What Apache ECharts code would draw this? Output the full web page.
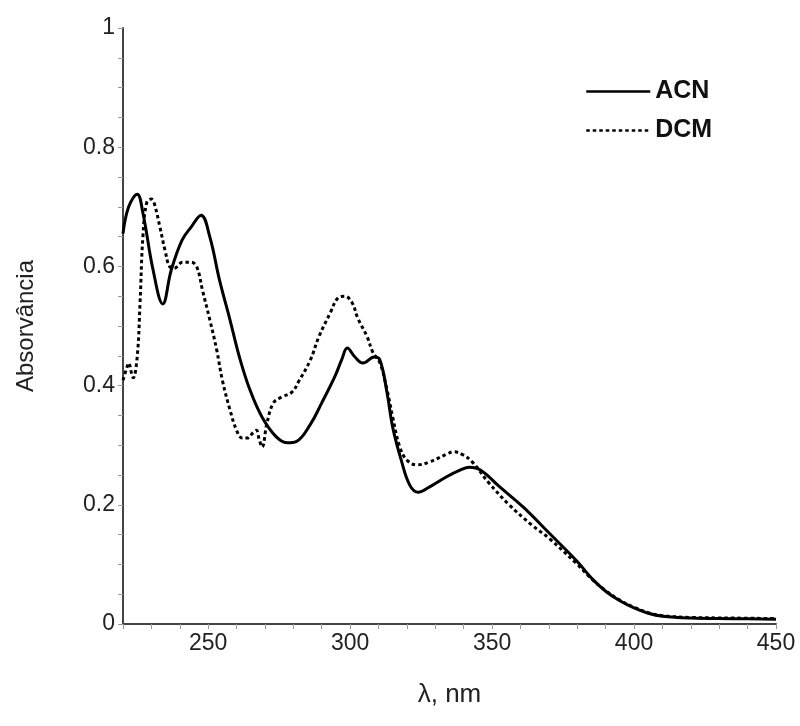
<!DOCTYPE html>
<html><head><meta charset="utf-8">
<script src="https://cdn.jsdelivr.net/npm/echarts@6/dist/echarts.min.js"></script>
<style>html,body{margin:0;padding:0;background:#fff}#c{width:800px;height:726px}</style>
</head><body><div id="c"></div>
<script>
// wavelength (nm) / absorbance pairs
const acnX = [220, 222, 225, 227, 230.6, 234, 237, 240.8, 244, 247.5, 250.6, 254, 257.7, 261, 264.7, 269, 274, 278, 281, 286, 290, 294.6, 297, 299, 301.7, 304.5, 308.5, 310.5, 313, 315, 318, 321, 324, 328, 334, 338.7, 342, 346, 352.7, 361, 370, 380, 385, 390, 395, 400, 405, 410, 420, 435, 450];
const acnY = [0.655, 0.7, 0.721, 0.69, 0.594, 0.537, 0.594, 0.644, 0.666, 0.686, 0.649, 0.577, 0.51, 0.448, 0.393, 0.347, 0.314, 0.304, 0.306, 0.335, 0.371, 0.415, 0.443, 0.463, 0.448, 0.438, 0.448, 0.443, 0.388, 0.33, 0.275, 0.233, 0.221, 0.23, 0.247, 0.258, 0.263, 0.258, 0.23, 0.196, 0.153, 0.105, 0.077, 0.055, 0.039, 0.027, 0.018, 0.013, 0.01, 0.009, 0.008];
const dcmX = [220, 221.4, 222, 223, 223.6, 225, 226, 227, 228.4, 230, 231, 233, 234.8, 236.5, 238, 241, 244, 246, 248, 250.6, 253, 255, 257.7, 260, 262, 263.7, 266, 267, 268, 269, 270.7, 273, 276, 279.5, 282, 286, 289, 293, 295.7, 298, 300.6, 302.7, 306, 308, 310.5, 313, 315, 317.5, 320, 323.5, 328, 334, 336.5, 339.7, 343, 349, 356, 364, 370, 380, 385, 390, 395, 400, 405, 410, 420, 435, 450];
const dcmY = [0.409, 0.431, 0.438, 0.421, 0.413, 0.448, 0.538, 0.649, 0.708, 0.713, 0.706, 0.666, 0.627, 0.599, 0.597, 0.607, 0.607, 0.599, 0.56, 0.51, 0.46, 0.409, 0.359, 0.325, 0.312, 0.312, 0.322, 0.325, 0.309, 0.297, 0.337, 0.371, 0.381, 0.389, 0.408, 0.443, 0.482, 0.522, 0.547, 0.55, 0.54, 0.513, 0.482, 0.456, 0.438, 0.393, 0.347, 0.297, 0.275, 0.267, 0.272, 0.285, 0.289, 0.284, 0.272, 0.236, 0.2, 0.166, 0.144, 0.1, 0.076, 0.056, 0.04, 0.028, 0.019, 0.014, 0.011, 0.01, 0.009];
const seriesNames = ['ACN', 'DCM'];
const xTitle = 'λ, nm';
const yTitle = 'Absorvância';

const zip = (xs, ys) => xs.map((x, i) => [x, ys[i]]);
const chart = echarts.init(document.getElementById('c'), null, {renderer: 'canvas'});
const font = '"Liberation Sans", Arial, sans-serif';
chart.setOption({
  animation: false,
  backgroundColor: '#fff',
  grid: {left: 123, right: 24, top: 28, bottom: 102},
  legend: {
    orient: 'vertical', left: 580, top: 74, itemGap: 14,
    itemWidth: 64, itemHeight: 14,
    data: seriesNames,
    itemStyle: {opacity: 0},
    lineStyle: {width: 2.5},
    textStyle: {fontFamily: font, fontSize: 25, fontWeight: 'bold', color: '#111'}
  },
  xAxis: {
    type: 'value', min: 220, max: 450, interval: 10,
    name: xTitle, nameLocation: 'middle', nameGap: 58,
    nameTextStyle: {fontFamily: font, fontSize: 26, color: '#222'},
    axisLine: {lineStyle: {color: '#444', width: 2}},
    axisTick: {show: true, length: 5, lineStyle: {color: '#999', width: 1}},
    splitLine: {show: false},
    axisLabel: {
      fontFamily: font, fontSize: 23, color: '#222', margin: 8,
      formatter: v => (Math.round(v) % 50 === 0 ? String(Math.round(v)) : '')
    }
  },
  yAxis: {
    type: 'value', min: 0, max: 1, interval: 0.05,
    name: yTitle, nameLocation: 'middle', nameGap: 85, nameRotate: 90,
    nameTextStyle: {fontFamily: font, fontSize: 24, color: '#222'},
    axisLine: {show: true, lineStyle: {color: '#444', width: 2}},
    axisTick: {show: true, length: 5, lineStyle: {color: '#999', width: 1}},
    splitLine: {show: false},
    axisLabel: {
      fontFamily: font, fontSize: 23, color: '#222', margin: 8,
      formatter: v => {
        const k = Math.round(v * 20);
        return k % 4 === 0 ? String(Math.round(v * 10) / 10) : '';
      }
    }
  },
  series: [
    {
      name: seriesNames[0], type: 'line', data: zip(acnX, acnY),
      showSymbol: false, symbol: 'none', smooth: 0.4,
      lineStyle: {color: '#000', width: 3, type: 'solid'},
      itemStyle: {color: '#000'}
    },
    {
      name: seriesNames[1], type: 'line', data: zip(dcmX, dcmY),
      showSymbol: false, symbol: 'none', smooth: 0.4,
      lineStyle: {color: '#000', width: 3, type: [3.5, 3]},
      itemStyle: {color: '#000'}
    }
  ]
});
</script></body></html>
